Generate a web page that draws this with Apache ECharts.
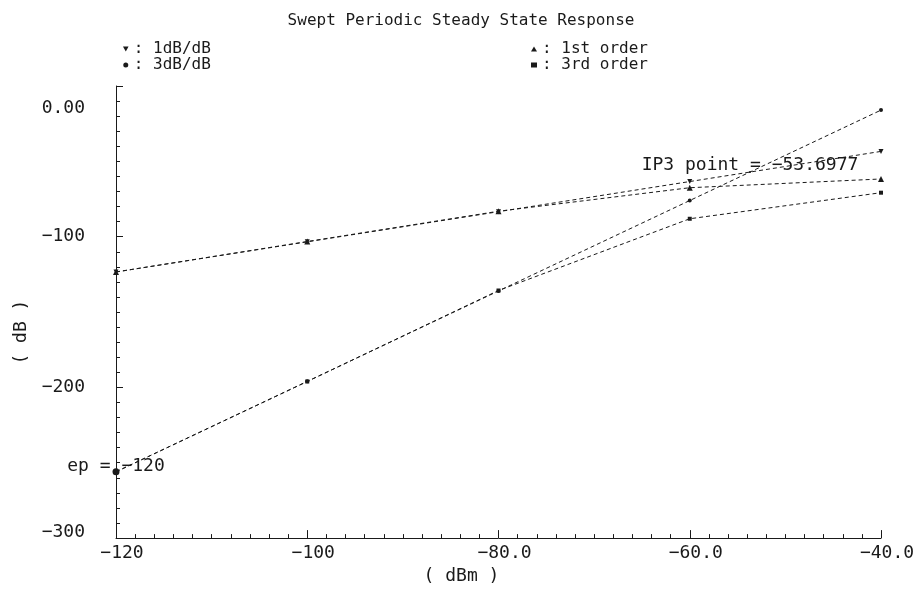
<!DOCTYPE html>
<html>
<head>
<meta charset="utf-8">
<script src="https://cdn.jsdelivr.net/npm/echarts@6/dist/echarts.min.js"></script>
<style>html,body{margin:0;padding:0;background:#fff}#c{width:922px;height:590px}</style>
</head>
<body>
<div id="c"></div>
<script>
// ---- data ----
const xValues = [-120, -100, -80, -60, -40];            // input power, dBm
const oneDbPerDb = [-123.4, -103.4, -83.4, -63.4, -43.4];  // 1dB/dB extrapolation
const threeDbPerDb = [-256, -196, -136, -76, -16];          // 3dB/dB extrapolation
const firstOrder = [-123.4, -103.2, -83.1, -67.5, -61.7];
const thirdOrder = [-256, -196.1, -135.7, -88.1, -70.8];
const ip3X = -53.6977, ip3Y = -57.1;
const epX = -120, epY = -256;
const seriesNames = ['1dB/dB', '3dB/dB', '1st order', '3rd order'];
const xTickLabels = {'-120': '\u2212120', '-100': '\u2212100', '-80': '\u221280.0', '-60': '\u221260.0', '-40': '\u221240.0'};
const yTickLabels = {'0': '0.00', '-100': '\u2212100', '-200': '\u2212200', '-300': '\u2212300'};

const FONT = '"DejaVu Sans Mono", monospace';
const INK = '#1a1a1a';
const pairs = arr => xValues.map((x, i) => [x, arr[i]]);
const vTri = 'path://M0,0L10,0L5,9Z';
const fmtNeg = v => (v < 0 ? '\u2212' : '') + Math.abs(v);

const lineStyle = {color: INK, width: 1, type: [4, 3]};
function mkSeries(name, data, symbol, size) {
  return {
    name, type: 'line', data: pairs(data), symbol, symbolSize: size,
    showSymbol: true, lineStyle, itemStyle: {color: INK}, z: 3
  };
}

const s1 = mkSeries(seriesNames[0], oneDbPerDb, vTri, 5);
s1.markPoint = {
  symbol: 'circle', symbolSize: 2, itemStyle: {color: INK},
  label: {show: true, position: 'inside', offset: [0, -7], color: INK,
          fontFamily: FONT, fontSize: 18, formatter: 'IP3 point = ' + fmtNeg(ip3X)},
  data: [{coord: [ip3X, ip3Y]}]
};
const s2 = mkSeries(seriesNames[1], threeDbPerDb, 'circle', 4);
s2.markPoint = {
  symbol: 'circle', symbolSize: 7, itemStyle: {color: INK},
  label: {show: true, position: 'inside', offset: [0, -5], color: INK,
          fontFamily: FONT, fontSize: 18, formatter: 'ep = ' + fmtNeg(epX)},
  data: [{coord: [epX, epY]}]
};
const s3 = mkSeries(seriesNames[2], firstOrder, 'triangle', 6);
const s4 = mkSeries(seriesNames[3], thirdOrder, 'rect', 4);

const legendText = {fontFamily: FONT, fontSize: 16, color: INK, lineHeight: 14};
const chart = echarts.init(document.getElementById('c'), null, {renderer: 'canvas'});
chart.setOption({
  animation: false,
  backgroundColor: '#fff',
  title: {
    text: 'Swept Periodic Steady State Response', left: 'center', top: 8,
    textStyle: {fontFamily: FONT, fontSize: 16, fontWeight: 'normal', color: INK}
  },
  legend: [
    {data: [{name: seriesNames[0], icon: vTri}, {name: seriesNames[1], icon: 'circle'}],
     orient: 'vertical', left: 118, top: 36, itemGap: 0, itemWidth: 6, itemHeight: 5,
     formatter: n => ': ' + n, textStyle: legendText, selectedMode: false},
    {data: [{name: seriesNames[2], icon: 'triangle'}, {name: seriesNames[3], icon: 'rect'}],
     orient: 'vertical', left: 526, top: 36, itemGap: 0, itemWidth: 6, itemHeight: 5,
     formatter: n => ': ' + n, textStyle: legendText, selectedMode: false}
  ],
  grid: {left: 116, right: 41, top: 86, bottom: 40, containLabel: false},
  xAxis: {
    type: 'value', min: -120, max: -40, interval: 20,
    name: '( dBm )', nameLocation: 'middle', nameGap: 27,
    nameTextStyle: {fontFamily: FONT, fontSize: 18, color: INK, padding: [0, 74, 0, 0]},
    axisLine: {onZero: false, lineStyle: {color: INK, width: 1}},
    axisTick: {inside: true, length: 8, lineStyle: {color: INK}},
    minorTick: {show: true, splitNumber: 10, length: 4, lineStyle: {color: INK}},
    splitLine: {show: false},
    axisLabel: {fontFamily: FONT, fontSize: 18, color: INK, margin: 6,
                padding: [0, 0, 0, 12], formatter: v => xTickLabels[String(v)]}
  },
  yAxis: {
    type: 'value', min: -300, max: 0, interval: 100,
    name: '( dB )', nameLocation: 'middle', nameGap: 86, nameRotate: 90,
    nameTextStyle: {fontFamily: FONT, fontSize: 18, color: INK, padding: [0, 40, 0, 0]},
    axisLine: {onZero: false, lineStyle: {color: INK, width: 1}},
    axisTick: {inside: true, length: 7, lineStyle: {color: INK}},
    minorTick: {show: true, splitNumber: 10, length: 4, lineStyle: {color: INK}},
    splitLine: {show: false},
    axisLabel: {
      fontFamily: FONT, fontSize: 18, color: INK, margin: 31,
      formatter: v => {
        const t = yTickLabels[String(v)];
        if (v === 0) return '{top|' + t + '}';
        if (v === -300) return '{bot|' + t + '}';
        return t;
      },
      rich: {
        top: {fontFamily: FONT, fontSize: 18, color: INK, padding: [44, 0, 0, 0]},
        bot: {fontFamily: FONT, fontSize: 18, color: INK, padding: [0, 0, 12, 0]}
      }
    }
  },
  series: [s1, s2, s3, s4]
});
</script>
</body>
</html>
